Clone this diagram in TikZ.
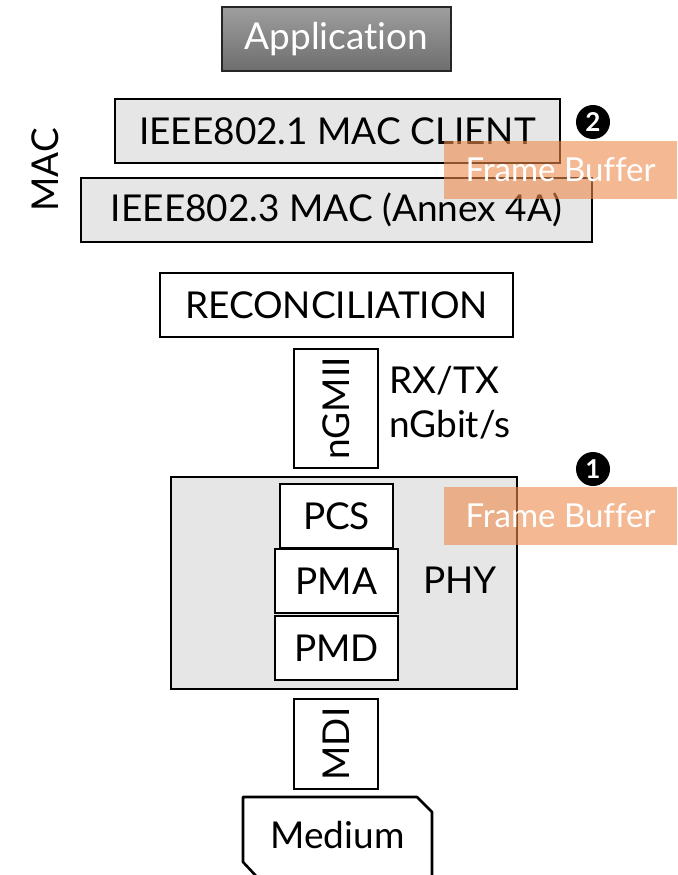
\documentclass[tikz,border=0pt]{standalone}
\usepackage{fontspec}
\setmainfont[Ligatures=NoCommon]{Lato}
\definecolor{boxgray}{HTML}{E6E6E6}
\definecolor{buforange}{RGB}{237,138,75}
\begin{document}
\begin{tikzpicture}[x=1pt,y=-1pt,
  lay/.style={draw=black, line width=2.6pt, inner sep=0pt, font=\fontsize{37}{44}\selectfont},
  graybox/.style={lay, fill=boxgray},
  whitebox/.style={lay, fill=white},
  buf/.style={fill=buforange, fill opacity=0.6, text opacity=1, text=white, inner sep=0pt, minimum width=233pt, minimum height=58pt, font=\fontsize{33}{38}\selectfont},
  plain/.style={inner sep=0pt, font=\fontsize{37}{44}\selectfont},
  numbadge/.style={circle, fill=black, text=white, inner sep=0pt, minimum size=34pt, font=\bfseries\fontsize{26}{28}\selectfont}
]
\useasboundingbox (0,0) rectangle (677,875);
% Application
\node[lay, draw=black!85, top color=black!38, bottom color=black!57, text=white,
      minimum width=229pt, minimum height=64pt] (app) at (336.5,39) {Application};
% MAC
\node[graybox, minimum width=445pt, minimum height=64pt] (client) at (337.5,131) {IEEE802.1 MAC CLIENT};
\node[graybox, minimum width=511pt, minimum height=64pt] (mac) at (336.5,210) {IEEE802.3 MAC (Annex 4A)};
\node[plain, rotate=90] (maclbl) at (45,170) {MAC};
\node[numbadge] (m2) at (593,122) {2};
\node[buf] (fb2) at (560.5,170) {Frame Buffer};
% Reconciliation
\node[whitebox, minimum width=353pt, minimum height=64pt] (rec) at (336.5,305) {RECONCILIATION};
\node[whitebox, minimum width=84pt, minimum height=119pt] (gmii) at (336,408.5) {};
\node[plain, rotate=90] (gmiilbl) at (336,408.5) {nGMII};
\node[plain, align=left, anchor=west] (rate) at (389,403) {RX/TX\\nGbit/s};
% PHY
\node[graybox, minimum width=346pt, minimum height=212pt] (phy) at (344,583) {};
\node[plain] (phylbl) at (460,580) {PHY};
\node[whitebox, minimum width=113pt, minimum height=64pt] (pcs) at (336.5,516) {PCS};
\node[whitebox, minimum width=123pt, minimum height=64pt] (pma) at (336.5,581) {PMA};
\node[whitebox, minimum width=123pt, minimum height=64pt] (pmd) at (336.5,648) {PMD};
\node[numbadge] (m1) at (593,469) {1};
\node[buf] (fb1) at (560.5,516) {Frame Buffer};
% MDI
\node[whitebox, minimum width=84pt, minimum height=90pt] (mdi) at (336,744) {};
\node[plain, rotate=90] (mdilbl) at (336,744) {MDI};
% Medium
\coordinate (medA) at (257,877);
\draw[line width=2.6pt, fill=white, line join=round] (medA) -- (243,862) -- (243,797) -- (417,797) -- (432,812) -- (432,877);
\node[plain] (med) at (337.5,835) {Medium};
\end{tikzpicture}
\end{document}
